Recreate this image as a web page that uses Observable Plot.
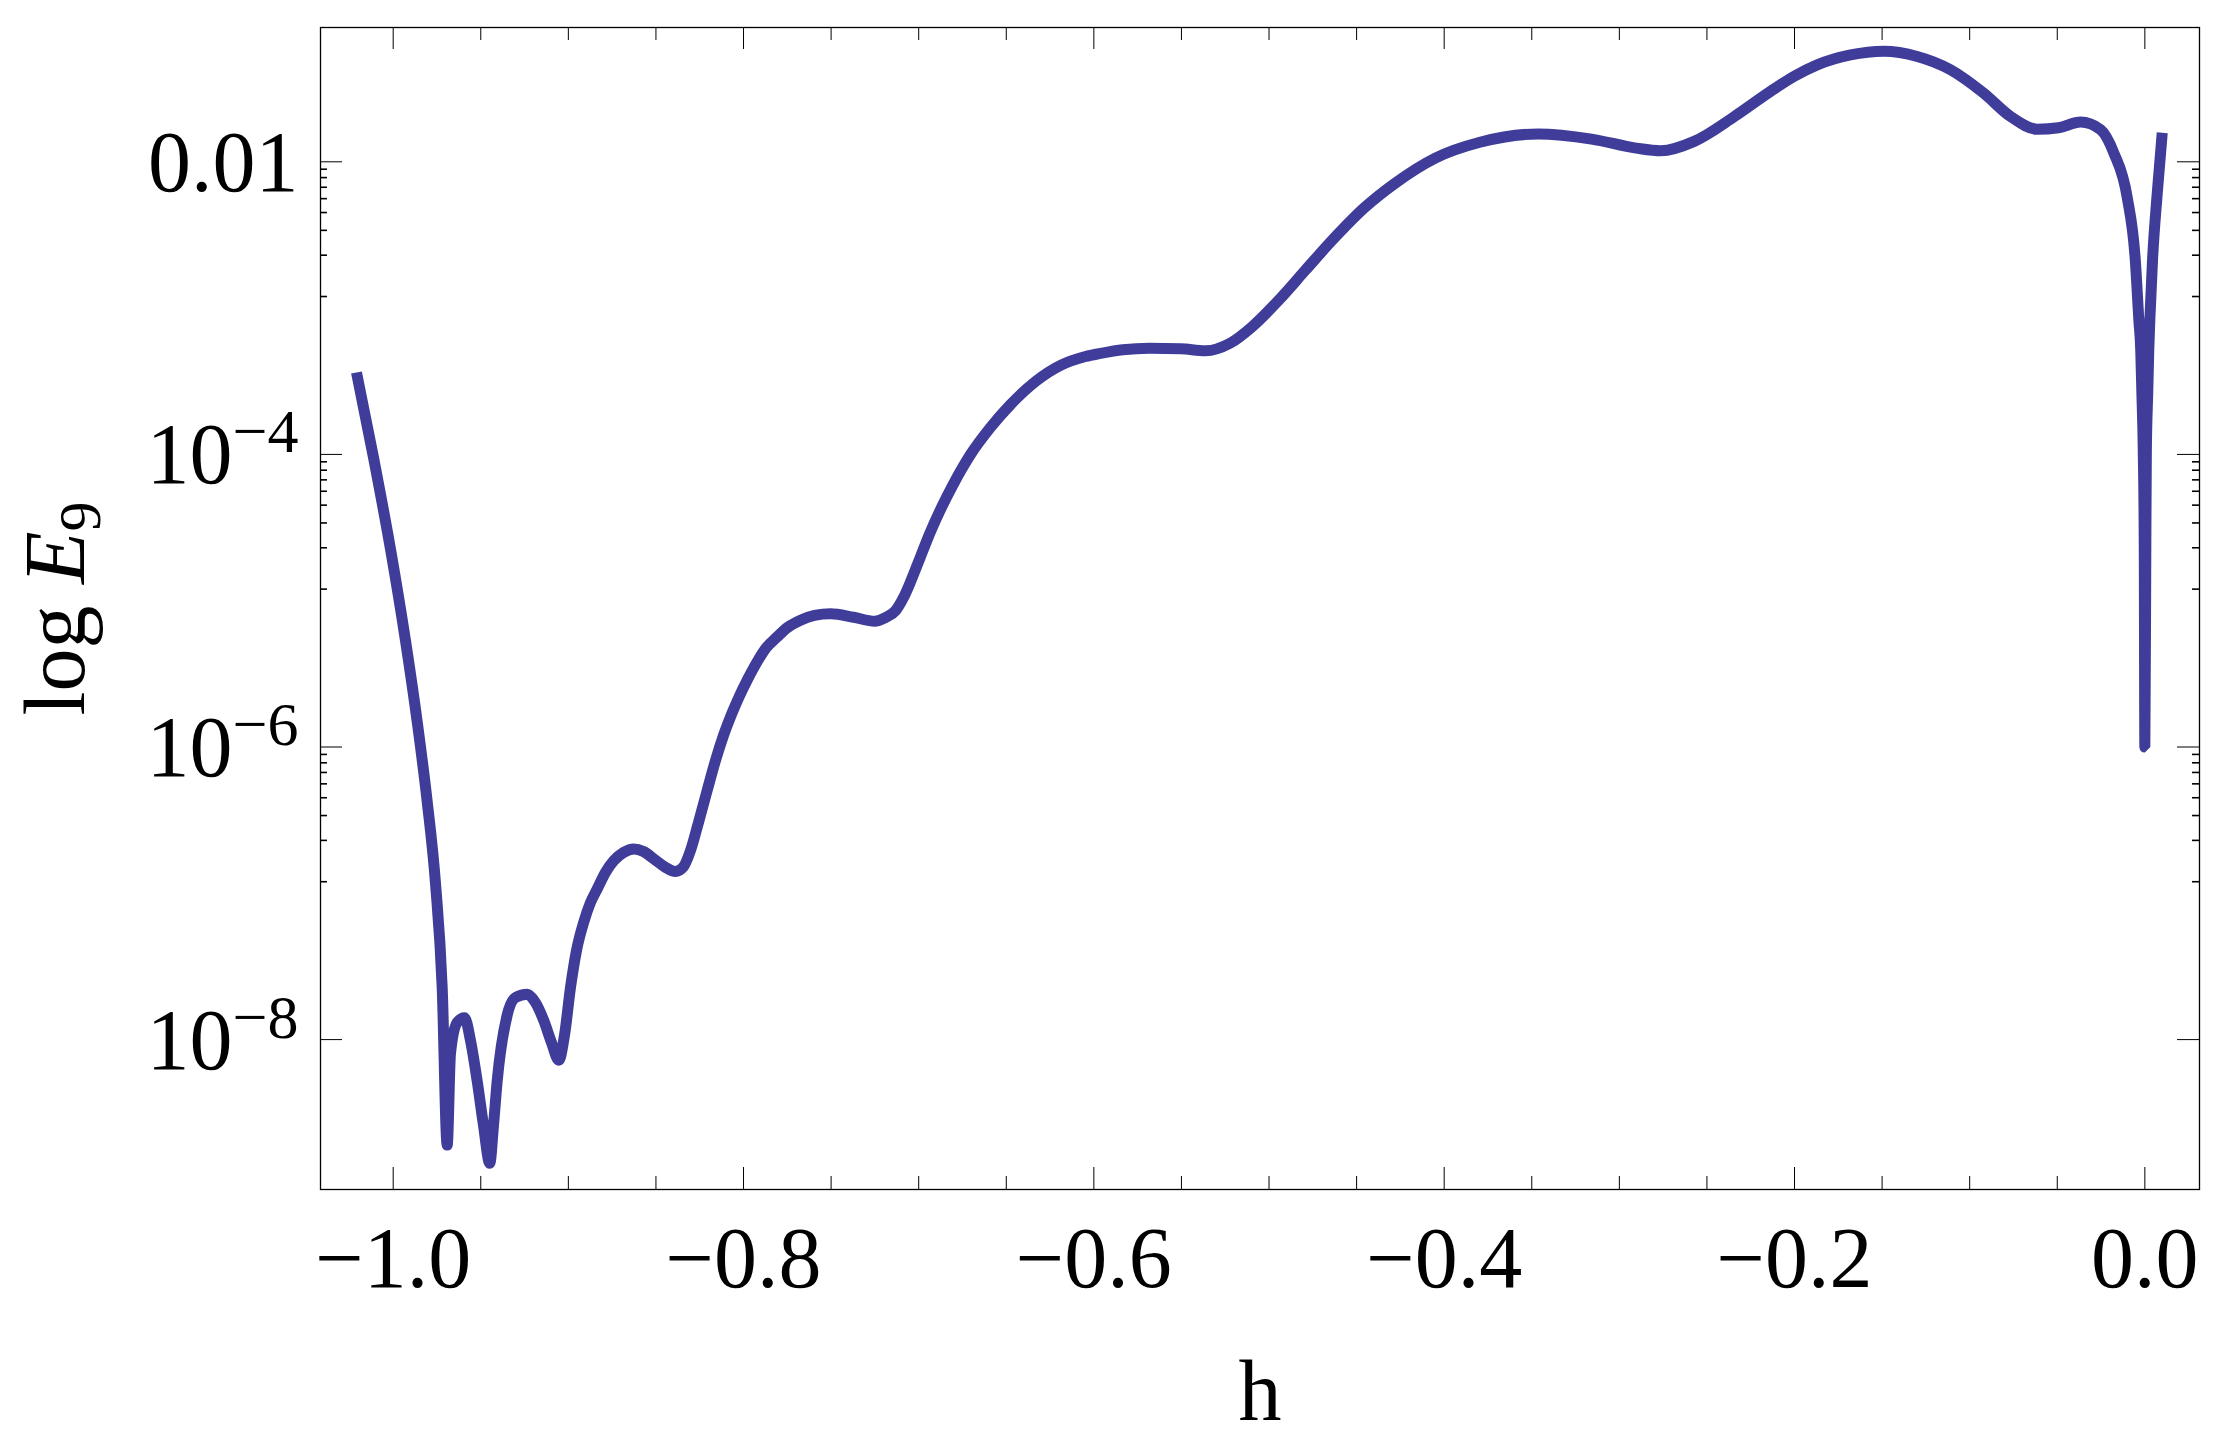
<!DOCTYPE html>
<html>
<head>
<meta charset="utf-8">
<script src="https://cdn.jsdelivr.net/npm/d3@7"></script>
<script src="https://cdn.jsdelivr.net/npm/@observablehq/plot@0.6"></script>
<style>
  html, body { margin: 0; padding: 0; background: #ffffff; }
  svg { display: block; }
</style>
</head>
<body>
<div id="chart"></div>
<script>
// ---- data ----
const hValues = [
  -1.02095, -1.01108, -1.00154, -0.99298, -0.98630, -0.98059, -0.97585, -0.97203, -0.96917, -0.96729,
  -0.96346, -0.95930, -0.95587, -0.95205, -0.94845, -0.94485, -0.94274, -0.94063, -0.93492, -0.93018,
  -0.92350, -0.91876, -0.91403, -0.90963, -0.90546, -0.90221, -0.89878, -0.89536, -0.89119, -0.88737,
  -0.88354, -0.87880, -0.87406, -0.86853, -0.86264, -0.85711, -0.85123, -0.84512, -0.83884, -0.83427,
  -0.83027, -0.82571, -0.82074, -0.81600, -0.81143, -0.80687, -0.80270, -0.79773, -0.79179, -0.78688,
  -0.78089, -0.77489, -0.76776, -0.75948, -0.75029, -0.73716, -0.72517, -0.71895, -0.71312, -0.70867,
  -0.70439, -0.69896, -0.69348, -0.68697, -0.68035, -0.67042, -0.65900, -0.64758, -0.63331, -0.61904,
  -0.60477, -0.59620, -0.58347, -0.56817, -0.55030, -0.53631, -0.52227, -0.50954, -0.49424, -0.47899,
  -0.46369, -0.44582, -0.42801, -0.40506, -0.37960, -0.34643, -0.31588, -0.29036, -0.27638, -0.25725,
  -0.23430, -0.21369, -0.20039, -0.18703, -0.16802, -0.14901, -0.12994, -0.11093, -0.09192, -0.07667,
  -0.06143, -0.04927, -0.03671, -0.02529, -0.01770, -0.01005, -0.00548, -0.00343, -0.00234, -0.00171,
  -0.00091, -0.00034, 0.0, 0.00057, 0.00086, 0.00166, 0.00223, 0.00285, 0.0044, 0.00708,
  0.00993
];
const eValues = [
  3.63e-4, 9.31e-5, 2.25e-5, 5.33e-6, 1.49e-6, 4.24e-7, 1.17e-7, 2.27e-8, 1.90e-9, 8.04e-9,
  1.31e-8, 1.41e-8, 9.86e-9, 5.21e-9, 2.59e-9, 1.43e-9, 2.59e-9, 5.21e-9, 1.47e-8, 1.94e-8,
  2.04e-8, 1.79e-8, 1.35e-8, 9.55e-9, 7.24e-9, 1.07e-8, 2.27e-8, 4.06e-8, 6.37e-8, 8.65e-8,
  1.07e-7, 1.39e-7, 1.67e-7, 1.90e-7, 2.01e-7, 1.93e-7, 1.72e-7, 1.52e-7, 1.41e-7, 1.52e-7,
  1.96e-7, 3.05e-7, 5.05e-7, 8.09e-7, 1.20e-6, 1.67e-6, 2.18e-6, 2.89e-6, 3.90e-6, 4.79e-6,
  5.64e-6, 6.56e-6, 7.33e-6, 7.93e-6, 8.13e-6, 7.71e-6, 7.24e-6, 7.67e-6, 8.57e-6, 1.05e-5,
  1.37e-5, 2.00e-5, 2.92e-5, 4.34e-5, 6.22e-5, 9.98e-5, 1.53e-4, 2.19e-4, 3.15e-4, 4.06e-4,
  4.67e-4, 4.90e-4, 5.19e-4, 5.32e-4, 5.27e-4, 5.11e-4, 5.75e-4, 7.48e-4, 1.14e-3, 1.83e-3,
  2.93e-3, 4.82e-3, 7.14e-3, 1.06e-2, 1.36e-2, 1.55e-2, 1.43e-2, 1.24e-2, 1.19e-2, 1.38e-2,
  2.04e-2, 3.03e-2, 3.83e-2, 4.60e-2, 5.38e-2, 5.70e-2, 5.25e-2, 4.26e-2, 2.94e-2, 2.04e-2,
  1.67e-2, 1.71e-2, 1.87e-2, 1.66e-2, 1.15e-2, 5.70e-3, 2.15e-3, 8.32e-4, 5.13e-4, 2.65e-4,
  1.06e-4, 2.40e-5, 1.0e-6, 2.40e-5, 1.06e-4, 2.65e-4, 5.13e-4, 8.32e-4, 2.15e-3, 6.10e-3,
  1.58e-2
];
const xTicksMajor = [-1.0, -0.8, -0.6, -0.4, -0.2, 0.0];
const xTickLabels = ["\u22121.0", "\u22120.8", "\u22120.6", "\u22120.4", "\u22120.2", "0.0"];
const xTicksMinor = [-0.95, -0.9, -0.85, -0.75, -0.7, -0.65, -0.55, -0.5, -0.45, -0.35, -0.3, -0.25, -0.15, -0.1, -0.05];
const yTicksMajor = [1e-2, 1e-4, 1e-6, 1e-8];
const yTickLabels = ["0.01", "10^\u22124", "10^\u22126", "10^\u22128"];
const yMinorBases = [1e-2, 1e-4, 1e-6];
const yMinorFactors = [0.89, 0.78, 0.67, 0.56, 0.45, 0.34, 0.23, 0.12];
const xLabel = "h";
const yLabel = "log E_9";

// ---- layout ----
const W = 2225, H = 1437;
const mL = 320, mR = 26, mT = 27, mB = 248;
const innerW = W - mL - mR;
const innerH = H - mT - mB;
const lineColor = "#3f3d99";

const data = hValues.map((x, i) => ({h: x, e: eValues[i]}));
const yTicksMinor = yMinorBases.flatMap(b => yMinorFactors.map(f => b * f));

const svg = Plot.plot({
  width: W,
  height: H,
  marginLeft: mL,
  marginRight: mR,
  marginTop: mT,
  marginBottom: mB,
  x: {domain: [-1.0415, 0.0312], axis: null},
  y: {type: "log", domain: [9.45e-10, 0.0828], axis: null},
  style: {fontFamily: "'Liberation Serif', 'Times New Roman', serif", background: "#ffffff", color: "black"},
  marks: [
    Plot.line(data, {x: "h", y: "e", stroke: lineColor, strokeWidth: 11, curve: "monotone-x",
                     strokeLinejoin: "miter", strokeLinecap: "butt"}),
    Plot.frame({stroke: "black", strokeWidth: 1.3}),
    Plot.ruleX(xTicksMajor, {insetTop: innerH - 22, stroke: "black", strokeWidth: 1}),
    Plot.ruleX(xTicksMajor, {insetBottom: innerH - 22, stroke: "black", strokeWidth: 1}),
    Plot.ruleX(xTicksMinor, {insetTop: innerH - 13, stroke: "black", strokeWidth: 1}),
    Plot.ruleX(xTicksMinor, {insetBottom: innerH - 13, stroke: "black", strokeWidth: 1}),
    Plot.ruleY(yTicksMajor, {insetRight: innerW - 22, stroke: "black", strokeWidth: 1}),
    Plot.ruleY(yTicksMajor, {insetLeft: innerW - 22, stroke: "black", strokeWidth: 1}),
    Plot.ruleY(yTicksMinor, {insetRight: innerW - 7, stroke: "black", strokeWidth: 1.6}),
    Plot.ruleY(yTicksMinor, {insetLeft: innerW - 7, stroke: "black", strokeWidth: 1.6}),
    Plot.text(xTicksMajor, {x: d => d, text: (d, i) => xTickLabels[i], frameAnchor: "bottom",
                            textAnchor: "middle", lineAnchor: "bottom", dy: 97, fontSize: 86, fill: "black"}),
    Plot.text(yTicksMajor, {y: d => d, text: (d, i) => yTickLabels[i], frameAnchor: "left",
                            textAnchor: "end", lineAnchor: "bottom", dx: -22, dy: 29, fontSize: 86, fill: "black"}),
    Plot.text([xLabel], {text: d => d, frameAnchor: "bottom", textAnchor: "middle", lineAnchor: "bottom",
                         dy: 230, fontSize: 86, fill: "black"}),
    Plot.text([yLabel], {text: d => d, frameAnchor: "left", rotate: -90, textAnchor: "middle", lineAnchor: "bottom",
                         dx: -237, fontSize: 86, fill: "black"})
  ]
});

// rich text: superscripts on tick labels, italic E with subscript on the y label
const NS = "http://www.w3.org/2000/svg";
svg.querySelectorAll("text").forEach(t => {
  const s = t.textContent;
  if (s.startsWith("10^")) {
    t.textContent = "";
    const a = document.createElementNS(NS, "tspan");
    a.textContent = "10";
    const b = document.createElementNS(NS, "tspan");
    b.setAttribute("dy", "-31");
    b.setAttribute("font-size", "62");
    b.textContent = s.slice(3);
    t.appendChild(a); t.appendChild(b);
  } else if (s === yLabel) {
    t.textContent = "";
    const a = document.createElementNS(NS, "tspan");
    a.textContent = "log ";
    const b = document.createElementNS(NS, "tspan");
    b.setAttribute("font-style", "italic");
    b.textContent = "E";
    const c = document.createElementNS(NS, "tspan");
    c.setAttribute("dy", "16");
    c.setAttribute("font-size", "60");
    c.textContent = "9";
    t.appendChild(a); t.appendChild(b); t.appendChild(c);
  }
});

document.getElementById("chart").appendChild(svg);
</script>
</body>
</html>
